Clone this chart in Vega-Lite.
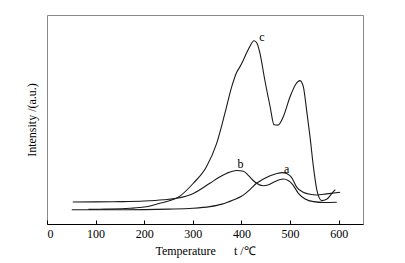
{
  "$schema": "https://vega.github.io/schema/vega-lite/v6.json",
  "autosize": {"type": "none"},
  "padding": {"left": 47, "top": 15, "right": 42, "bottom": 39},
  "width": 316,
  "height": 209,
  "background": "white",
  "config": {
    "view": {"stroke": "#8a8a8a", "strokeWidth": 1},
    "axis": {"grid": false}
  },
  "datasets": {
    "curves": [
      {"s": "a", "t": 51, "v": 6.8}, {"s": "a", "t": 100, "v": 6.8}, {"s": "a", "t": 150, "v": 6.8},
      {"s": "a", "t": 200, "v": 6.9}, {"s": "a", "t": 250, "v": 7.1}, {"s": "a", "t": 300, "v": 7.5},
      {"s": "a", "t": 335, "v": 8.3}, {"s": "a", "t": 360, "v": 9.5}, {"s": "a", "t": 383, "v": 11.5},
      {"s": "a", "t": 400, "v": 13.3}, {"s": "a", "t": 418, "v": 16.6}, {"s": "a", "t": 431, "v": 19.5},
      {"s": "a", "t": 445, "v": 21.5}, {"s": "a", "t": 459, "v": 23.1}, {"s": "a", "t": 473, "v": 24.2},
      {"s": "a", "t": 484, "v": 24.6}, {"s": "a", "t": 494, "v": 24.0}, {"s": "a", "t": 503, "v": 22.3},
      {"s": "a", "t": 514, "v": 17.5}, {"s": "a", "t": 527, "v": 15.2}, {"s": "a", "t": 541, "v": 14.2},
      {"s": "a", "t": 555, "v": 13.9}, {"s": "a", "t": 575, "v": 14.4}, {"s": "a", "t": 603, "v": 15.2},
      {"s": "b", "t": 53, "v": 10.5}, {"s": "b", "t": 100, "v": 10.6}, {"s": "b", "t": 150, "v": 10.7},
      {"s": "b", "t": 200, "v": 11.0}, {"s": "b", "t": 240, "v": 11.6}, {"s": "b", "t": 267, "v": 12.3},
      {"s": "b", "t": 300, "v": 14.5}, {"s": "b", "t": 335, "v": 19.5}, {"s": "b", "t": 355, "v": 22.5},
      {"s": "b", "t": 370, "v": 24.3}, {"s": "b", "t": 390, "v": 25.6}, {"s": "b", "t": 404, "v": 25.2},
      {"s": "b", "t": 414, "v": 23.3}, {"s": "b", "t": 422, "v": 21.3}, {"s": "b", "t": 431, "v": 19.5},
      {"s": "b", "t": 445, "v": 18.3}, {"s": "b", "t": 456, "v": 18.8}, {"s": "b", "t": 466, "v": 20.0},
      {"s": "b", "t": 478, "v": 21.2}, {"s": "b", "t": 487, "v": 21.5}, {"s": "b", "t": 496, "v": 20.8},
      {"s": "b", "t": 505, "v": 19.0}, {"s": "b", "t": 517, "v": 14.7}, {"s": "b", "t": 531, "v": 12.0},
      {"s": "b", "t": 548, "v": 10.7}, {"s": "b", "t": 570, "v": 10.3}, {"s": "b", "t": 596, "v": 10.4},
      {"s": "c", "t": 85, "v": 7.0}, {"s": "c", "t": 120, "v": 7.1}, {"s": "c", "t": 171, "v": 7.5},
      {"s": "c", "t": 200, "v": 8.1}, {"s": "c", "t": 232, "v": 9.9}, {"s": "c", "t": 250, "v": 11.0},
      {"s": "c", "t": 270, "v": 12.8}, {"s": "c", "t": 301, "v": 19.5}, {"s": "c", "t": 328, "v": 27.4},
      {"s": "c", "t": 349, "v": 38.6}, {"s": "c", "t": 366, "v": 53.0}, {"s": "c", "t": 380, "v": 65.7},
      {"s": "c", "t": 390, "v": 72.5}, {"s": "c", "t": 397, "v": 75.3}, {"s": "c", "t": 404, "v": 78.5},
      {"s": "c", "t": 415, "v": 84.0}, {"s": "c", "t": 426, "v": 87.7}, {"s": "c", "t": 432, "v": 86.5},
      {"s": "c", "t": 438, "v": 81.7}, {"s": "c", "t": 448, "v": 68.9}, {"s": "c", "t": 459, "v": 56.1},
      {"s": "c", "t": 467, "v": 47.5}, {"s": "c", "t": 475, "v": 47.3}, {"s": "c", "t": 486, "v": 51.3},
      {"s": "c", "t": 500, "v": 60.9}, {"s": "c", "t": 512, "v": 67.0}, {"s": "c", "t": 520, "v": 68.6},
      {"s": "c", "t": 527, "v": 66.0}, {"s": "c", "t": 534, "v": 54.5}, {"s": "c", "t": 541, "v": 41.8},
      {"s": "c", "t": 548, "v": 27.4}, {"s": "c", "t": 555, "v": 16.3}, {"s": "c", "t": 560, "v": 12.5},
      {"s": "c", "t": 565, "v": 11.2}, {"s": "c", "t": 575, "v": 11.8}, {"s": "c", "t": 589, "v": 15.5},
      {"s": "c", "t": 593, "v": 16.5}
    ],
    "labels": [
      {"s": "a", "t": 493, "v": 26.5},
      {"s": "b", "t": 398, "v": 28.8},
      {"s": "c", "t": 442, "v": 89.5}
    ]
  },
  "layer": [
    {
      "data": {"name": "curves"},
      "mark": {"type": "line", "interpolate": "monotone", "stroke": "#1a1a1a", "strokeWidth": 1.1},
      "encoding": {
        "x": {
          "field": "t", "type": "quantitative",
          "scale": {"domain": [0, 650], "nice": false},
          "axis": {
            "title": "Temperature\u00a0\u00a0\u00a0\u00a0\u00a0\u00a0t /℃",
            "values": [0, 50, 100, 150, 200, 250, 300, 350, 400, 450, 500, 550, 600],
            "labelExpr": "datum.value % 100 == 0 ? datum.label : ''",
            "tickSize": -4, "tickColor": "#000", "domainColor": "#000",
            "labelFont": "Liberation Serif", "labelFontSize": 12, "labelColor": "#000",
            "labelPadding": 8,
            "titleFont": "Liberation Serif", "titleFontSize": 12, "titleFontWeight": "normal",
            "titleColor": "#000", "titlePadding": 6
          }
        },
        "y": {
          "field": "v", "type": "quantitative",
          "scale": {"domain": [0, 100], "nice": false},
          "axis": {
            "title": "Intensity /(a.u.)", "labels": false, "ticks": false, "domain": false,
            "titleFont": "Liberation Serif", "titleFontSize": 12, "titleFontWeight": "normal",
            "titleColor": "#000", "titlePadding": 9
          }
        },
        "detail": {"field": "s"}
      }
    },
    {
      "data": {"name": "labels"},
      "mark": {"type": "text", "font": "Liberation Serif", "fontSize": 12, "fill": "#000", "baseline": "middle", "align": "center"},
      "encoding": {
        "x": {"field": "t", "type": "quantitative"},
        "y": {"field": "v", "type": "quantitative"},
        "text": {"field": "s"}
      }
    }
  ]
}
